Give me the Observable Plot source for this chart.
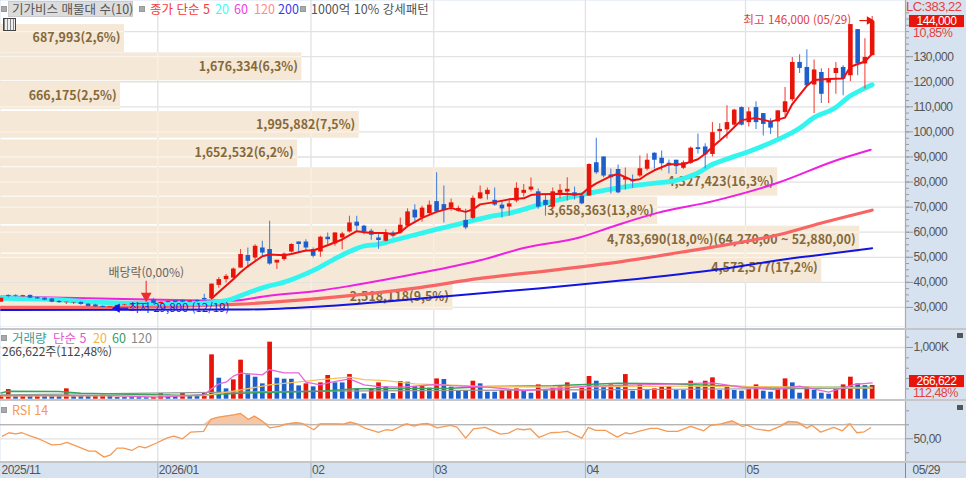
<!DOCTYPE html>
<html lang="ko"><head><meta charset="utf-8">
<script src="https://cdn.jsdelivr.net/npm/d3@7"></script>
<script src="https://cdn.jsdelivr.net/npm/@observablehq/plot@0.6"></script>
<style>
html,body{margin:0;padding:0;background:#fff;overflow:hidden}
#wrap{position:relative;width:966px;height:478px;overflow:hidden}
#wrap svg{display:block}
#wrap g[aria-label="y-axis tick label"]{letter-spacing:-.5px}
.t{position:absolute;white-space:nowrap;font:12.5px "Noto Sans CJK KR",sans-serif;line-height:13px}
.n{font-family:"Liberation Sans",sans-serif;font-size:12px;letter-spacing:-.5px}
.sq{position:absolute;width:4px;height:4px;background:#aaa;border:1px solid #999}
.bar{position:absolute;background:#c6c6c6}
</style></head><body><div id="wrap"></div>
<script>
// prices in thousand won, one value per trading day
const opens=[32.1,34.8,34.8,34.3,34.8,33.9,33.7,33.4,32.4,31.9,
31.8,32,31.3,31,30.4,29.9,30.3,30.8,31,31.2,
31.5,33,31.5,32,32.6,32.8,32.1,32.8,33.6,33.5,
38.8,41.1,41.7,45.7,50.7,49.7,53.7,53.1,47.7,49.1,
52.1,56.1,56.1,53.1,52.1,58,55.3,57.7,60.1,64,
62.4,60.4,57.7,56.4,59.7,59.7,62.4,68.8,65.7,67.4,
72.2,71,69.7,68.4,64.7,65.5,73.3,75,72.7,70.8,
70,72.4,75.5,76.8,76.1,72.7,70,75.5,76,75.7,
74.4,74.4,87.7,90,82.8,85,80.8,81,82.4,85.1,
91.5,89.5,87.5,88.7,85.5,87.5,93.7,94,91,100.1,
100.8,102.7,109.7,103.7,109.7,107.3,104,104,107.7,112.8,
127.7,125.7,118.7,123.7,119.5,123.3,125.7,122.4,140.8,127.1,
130.4];
const highs=[33.7,35,35,34.9,35,34.2,34,33.7,32.8,32.1,
32,32.3,31.6,31.3,30.7,30.3,30.9,31.3,31.4,31.7,
31.8,33.6,32.3,32.7,33,33.2,32.9,33.2,35.3,39.3,
41.9,43.1,45.7,53.1,53.7,55,56.4,64.4,48.8,51.7,
55.4,56.1,57,53.7,58.4,59.7,59.7,60,66.4,66.4,
62.8,61.2,59,61,60.4,65.7,69.4,71,70.4,72.4,
83.7,78.4,73.2,70.4,69.2,74.4,78.4,77.6,77.6,72.4,
73.2,79.7,79,81.6,77.2,75.2,77.6,79,81.7,78,
75,87.3,97.5,90,85.2,86.8,85.6,82.8,90.4,91.2,
91.7,92.4,88.8,88.7,88.4,94,99.2,95.3,103.7,103.3,
110.4,109,110,109.6,112,107.3,105.3,108.4,117.7,129.7,
130.8,132.8,128.7,125.2,125.3,127.7,126.4,142.8,140.8,137.1,
146];
const lows=[32.1,33.8,34.2,34,33.5,33.2,32.7,31.9,31.7,31.2,
31.2,30.9,30.2,30,29.9,29.8,30.2,30.6,30.8,31,
31,31.3,31.2,31.8,31.8,31.8,31.9,32,32.6,33.5,
37.7,39.7,41,45.7,45.7,48.4,50.4,46.8,45.1,48.4,
51.7,51.7,52,49.7,50,54.4,54.4,53,59.7,60.4,
59,56.8,53.2,56,57.7,59.3,62,64.4,64,67,
67.7,63.7,68.4,68,61,65,73,72.8,70.4,65.7,
66.4,71.7,74,76,69.2,66.4,69.7,73.2,72.4,72.8,
71,74.4,83,81.7,75.2,75.3,76.8,77.5,81.7,84.4,
85.2,84.4,83.2,83,85,87,91.2,85.2,90,97,
97.2,101.6,102.4,102,101,98.4,99,97.7,106,112,
123.3,118.4,107.3,111.3,111.3,115,114.4,120,122.4,117.1,
130.4];
const closes=[33.7,34.4,34.5,34.7,33.7,33.4,32.9,32.1,31.9,32.1,
32,31.2,30.4,30.2,30,30.2,30.8,31,31.2,31.5,
31.3,31.6,32,32.4,32,32.1,32.6,32.3,33,39.3,
41.1,42.4,45.3,51.1,48.4,54.4,51.7,47.3,48.8,51.3,
55.1,55.1,53.7,50.4,58,57,59.7,59.3,63.7,62.4,
60.1,58.8,56.7,59.3,58.4,62.8,68.1,65.7,69.6,70.8,
68.1,68.7,71.7,69.5,61.7,73.5,75.7,76.7,70.8,69.3,
71.3,77.5,76.7,78,70,70.7,76.1,76.7,77.1,74.4,
71.3,87,83.7,82.4,81.7,75.7,81.7,80.1,85.3,88.7,
88.7,87.3,86.4,86.1,87.7,93.5,93,90.8,99.7,101,
103.7,108.7,102.7,108,103.7,103,101.5,108.4,112,127.7,
125.3,118.4,124.7,115,121.3,125.3,121,142.8,127.1,129.7,
144];
// volume in thousand shares
const volumes=[71,187,58,71,58,65,58,55,52,200,
58,55,52,71,77,58,32,31,30,29,
28,35,110,77,58,110,71,70,116,858,
406,200,374,755,471,426,297,1103,406,387,
386,258,297,239,316,458,316,315,477,200,
103,200,316,239,110,342,329,245,252,213,
393,381,232,168,167,348,297,135,134,168,
169,200,168,116,277,168,213,245,316,123,
213,439,348,232,277,264,477,155,277,168,
200,232,245,168,167,348,245,348,413,168,
264,168,155,187,277,155,135,200,393,316,
116,232,168,116,97,219,277,426,297,262,
266.622];
// moving averages read as [day index, price]
const ma5=[[29,33.6],[32,41.2],[33,44],[34,46.4],[35,48.4],[36,50.4],[37,51.1],[39,50.8],[40,51.3],[42,52.7],[43,52.7],[45,54.8],[47,57.1],[49,60.4],[51,59.7],[53,59.7],[54,59.2],[55,60],[56,62.4],[58,65.7],[60,68.1],[62,69.7],[63,68.8],[64,68.1],[65,69.1],[66,71.1],[68,72],[70,73.1],[72,73.5],[73,74.8],[74,75.1],[76,75.2],[77,75.3],[79,75.1],[80,75.2],[81,77.7],[82,79.5],[84,82.4],[85,83.2],[87,80.7],[88,81.1],[89,83.1],[90,84.7],[92,87.1],[94,87.1],[96,89.1],[97,91.3],[98,94],[100,99.1],[102,104.7],[104,105.5],[106,104.1],[108,105.7],[109,111.1],[111,118.4],[112,120.7],[114,121.1],[116,121.3],[117,126],[119,128.1],[120,131.1]];
const ma20=[[0,33.6],[6.8,33.2],[13.7,32],[20.6,31.6],[27.5,31.6],[31.2,32.8],[33.9,35.7],[36.7,38.4],[38.9,40],[42.2,43.7],[43.6,45.6],[45.8,49.1],[48.1,52.4],[49.9,54.4],[51.8,55.1],[53.6,56.4],[56.8,58.8],[60.1,61.2],[63.7,63.7],[67,66],[70.2,67.7],[73.9,70.7],[77.1,73.1],[81.2,75.7],[85.7,78],[90.4,79.7],[92.6,80.4],[95.7,83.2],[98.1,87.2],[100,89.2],[103.2,92.4],[106.9,96.8],[110.1,101.7],[111.9,105.6],[114.7,109.2],[117,114.4],[118.8,117.2],[120,118.8]];
const ma60=[[0,34.4],[13.7,33.6],[27.5,32.8],[32,32.7],[36.2,34.4],[44,36.8],[47.7,38.4],[56.8,43.2],[66,48.8],[72,53.7],[79.8,58],[84.4,62.4],[90.4,67.7],[98.1,72.4],[107,79.7],[115.2,88.8],[119.8,92.9]];
const ma120=[[0,30],[13.7,30],[32,31.2],[44,33.6],[56.8,37.6],[66,41.6],[77,45.2],[85.7,48.4],[93.6,52],[107.4,59.2],[112.9,63.6],[120,68.8]];
const ma200=[[0,29],[34,29.2],[44,30.4],[61,34.4],[74,37.6],[83,40],[98,44.8],[110,50],[113,51],[120,53.6]];
// volume averages as [day index, thousand shares]
const volMa5=[[0,71],[15,71],[21.5,39],[28,84],[29,200],[30,297],[31,329],[32,445],[33,503],[36,471],[37,574],[39,510],[41,510],[42,329],[44,277],[45,316],[48,393],[50,277],[52,245],[55,232],[57,252],[60,284],[62,264],[67,232],[72,168],[76,200],[81,252],[88,277],[98,316],[102,232],[106.5,187],[110,252],[114,135],[117.5,284],[120,316]];
const volMa20=[[0,58],[28,71],[32,155],[37,277],[44,380],[48,426],[50,380],[53,361],[57,297],[64,264],[67,245],[76,232],[85,245],[93,252],[102,245],[120,219]];
const volMa60=[[0,122],[1,155],[8,148],[11,116],[16,103],[26,71],[33,116],[44,155],[49,200],[62,213],[67,245],[76,258],[85,310],[92,297],[102,245],[106,226],[120,232]];
const volMa120=[[0,84],[44,155],[85,187],[120,213]];
// RSI as [day index, value]
const rsi14=[[0.2,53.8],[1.1,58.6],[2,57.1],[2.9,58.6],[4.1,53.8],[5.4,49],[7,41.4],[8.2,41.9],[9.1,44.8],[10.5,39],[12.1,32.4],[13,32.4],[14.2,23.8],[15.1,27.1],[16,36.7],[16.9,36.7],[18,33.3],[19,39],[19.9,37.1],[21.5,44.3],[22.9,51.4],[23.8,53.8],[25,50],[26.1,59.5],[27.9,60.5],[28.9,77.6],[29.8,80.5],[30.9,82.4],[32.1,84.3],[33,86.2],[34.1,77.6],[34.9,82.4],[36,75.2],[37,65.7],[38.3,67.6],[39.4,71.4],[40.6,72.9],[41.5,71.9],[43.1,62.9],[44,71.4],[45.8,71.4],[47.2,71],[48.1,73.8],[49,71.4],[50,65.7],[52,59],[53,62.9],[53.9,61.9],[55,67.6],[55.9,71.4],[56.9,68.1],[57.8,71],[58.7,71.9],[60.1,65.7],[61.9,69],[62.8,66.7],[64,51],[65.1,64.3],[66.7,66.2],[68.8,56.7],[69.9,58.1],[71.1,64.3],[72,62.9],[72.9,64.3],[74.1,51.9],[75.7,58.6],[77.1,59.5],[78,60.5],[80,51],[80.9,66.2],[81.9,61.9],[83.3,61.9],[84.9,52.4],[86,58.6],[86.7,57.1],[87.8,60.5],[89.5,64.8],[90.4,64.8],[91.8,60.5],[93.2,60.5],[95,67.6],[96.8,61.4],[97.7,69],[99.1,71],[100.7,75.7],[102.1,67.6],[102.8,69.5],[103.9,64.3],[105.8,61.4],[107.4,68.1],[108.5,74.8],[109.7,73.8],[111,65.2],[111.7,69.5],[112.9,59.5],[114.7,66.2],[115.9,61.4],[116.9,71.4],[117.9,58.6],[118.9,60],[119.8,65.7]];
// price-volume profile
const bandVolume=[687993,1676334,666175,1995882,1652532,4327423,3658363,4783690,4572577,2518118];
const bandTop=[142.8,131.5,120,108.1,96.8,85.7,74,62.4,51.2,39.6];
const bandBottom=[131.7,120.4,108.9,97.5,86.1,74.4,63.1,51.7,40,28.8];
const bandLabel=["687,993(2,6%)","1,676,334(6,3%)","666,175(2,5%)","1,995,882(7,5%)","1,652,532(6,2%)","4,327,423(16,3%)","3,658,363(13,8%)","4,783,690(18,0%)(64,270,00 ~ 52,880,00)","4,572,577(17,2%)","2,518,118(9,5%)"];
const monthIndex=[21.6,42.7,59.6,80.5,102.55];
const monthLabel=["2026/01","02","03","04","05"];
const priceTicks=[30,40,50,60,70,80,90,100,110,120,130];
const gridPrices=[30,40,50,60,70,80,90,100,110,120,130,140];
const priceMinor=d3.range(30,150,2.5);
const volMinor=[200,400,600,800,1200];
const rsiMinor=[30,70,90];

const RED="#e8140a",BLUE="#1c5fcb",GRID="#e2e2e2",PANEL="#d6e2ef",INK="#555";
const xMin=-0.069,xMax=124.59;
const bandEnd=v=>v*1.795e-4/7.26;
const rows=opens.map((o,i)=>({i,o,h:highs[i],l:lows[i],c:closes[i],v:volumes[i],up:closes[i]>=o,vup:i===0||volumes[i]>=volumes[i-1]}));
const bands=bandVolume.map((v,k)=>({v,top:bandTop[k],bottom:bandBottom[k],label:bandLabel[k],end:bandEnd(v)}));
const bandGridH=bands.flatMap(b=>gridPrices.filter(p=>p<b.top&&p>b.bottom).map(p=>({p,end:b.end})));
const bandGridV=bands.flatMap(b=>monthIndex.filter(m=>m<b.end).map(m=>({m,top:b.top,bottom:b.bottom})));
const lineOf=(a,color,w,curve="linear")=>Plot.line(a,{x:d=>d[0],y:d=>d[1],stroke:color,strokeWidth:w,curve,clip:true});
const common={width:966,marginLeft:0,marginRight:61,marginTop:0,marginBottom:0,
  x:{domain:[xMin,xMax],axis:null},
  style:{background:PANEL,fontFamily:'"Liberation Sans",sans-serif',fontSize:"12px",color:INK}};
const monthRules=()=>Plot.ruleX(monthIndex,{stroke:GRID,strokeWidth:1.3});
const edge=()=>Plot.ruleX([xMax],{stroke:"#aaa",strokeWidth:1.2});
const rightTicks=(ticks,size)=>Plot.axisY({anchor:"right",ticks,tickSize:size,fill:"none",stroke:"#999",tickFormat:()=>"",label:null});

const main=Plot.plot({...common,height:326,
  y:{domain:[22.4,152.4],range:[326,0]},
  marks:[
    Plot.frame({fill:"#fff",stroke:null}),
    Plot.ruleY(gridPrices,{stroke:GRID,strokeWidth:1.3}),
    monthRules(),
    Plot.rect(bands,{x1:xMin,x2:"end",y1:"bottom",y2:"top",fill:"#f5e8d6"}),
    Plot.ruleY(bandGridH,{y:"p",x1:xMin,x2:"end",stroke:"#fbf4ea",strokeWidth:1.3}),
    Plot.ruleX(bandGridV,{x:"m",y1:"bottom",y2:"top",stroke:"#f9f0e4",strokeWidth:1.3}),
    Plot.text(bands,{x:"end",y:d=>(d.top+d.bottom)/2,text:"label",textAnchor:"end",dx:-4,fill:"#86693b",fontWeight:700,fontFamily:'"Noto Sans CJK KR",sans-serif',fontSize:12.4}),
    rightTicks(priceMinor,3),
    Plot.axisY({anchor:"right",ticks:priceTicks,tickSize:7,tickPadding:1,stroke:"#999",fill:INK,label:null,tickFormat:d=>d3.format(",")(d*1000)}),
    lineOf(ma200,"#1414e0",2,"monotone-x"),
    lineOf(ma120,"#f96464",3.2,"monotone-x"),
    lineOf(ma60,"#f020e0",2,"monotone-x"),
    lineOf(ma20,"#33f5f0",4.8,"monotone-x"),
    Plot.ruleX(rows,{filter:d=>d.up,x:"i",y1:"l",y2:"h",stroke:"#ef4a40",strokeWidth:1.1,clip:true}),
    Plot.ruleX(rows,{filter:d=>!d.up,x:"i",y1:"l",y2:"h",stroke:"#4a85dc",strokeWidth:1.1,clip:true}),
    Plot.ruleX(rows,{filter:d=>d.up,x:"i",y1:"o",y2:"c",stroke:RED,strokeWidth:4.6,clip:true}),
    Plot.ruleX(rows,{filter:d=>!d.up,x:"i",y1:"o",y2:"c",stroke:BLUE,strokeWidth:4.6,clip:true}),
    lineOf(ma5,"#ee1010",2),
    // annotations: highest price, ex-dividend, lowest price
    Plot.text([{i:120,y:144.6}],{x:"i",y:"y",text:()=>"최고 146,000 (05/29)",textAnchor:"end",dx:-21,fill:"#e23c3c",fontFamily:'"Noto Sans CJK KR",sans-serif',fontSize:11.6}),
    Plot.ruleY([{y:144.4,i1:118.3,i2:119.6}],{y:"y",x1:"i1",x2:"i2",stroke:RED,strokeWidth:1.2}),
    Plot.dot([{i:119.6,y:144.4}],{x:"i",y:"y",symbol:"triangle",r:3.2,fill:RED,stroke:"none",rotate:90}),
    Plot.text([{i:20,y:43.6}],{x:"i",y:"y",text:()=>"배당락(0,00%)",fill:"#666",fontFamily:'"Noto Sans CJK KR",sans-serif',fontSize:12}),
    Plot.ruleX([{i:20,y1:40.4,y2:35}],{x:"i",y1:"y1",y2:"y2",stroke:"#ef3b3b",strokeWidth:1.2}),
    Plot.dot([{i:20,y:34.6}],{x:"i",y:"y",symbol:"triangle",r:4,fill:"#ef2b2b",stroke:"none",rotate:180}),
    Plot.ruleY([{y:29.7,i1:16,i2:17.6}],{y:"y",x1:"i1",x2:"i2",stroke:"#1414e0",strokeWidth:1.2}),
    Plot.dot([{i:16,y:29.7}],{x:"i",y:"y",symbol:"triangle",r:3.4,fill:"#1414e0",stroke:"none",rotate:-90}),
    Plot.text([{i:17.6,y:29.7}],{x:"i",y:"y",text:()=>"최저 29,800 (12/19)",textAnchor:"start",fill:"#2020d8",fontFamily:'"Noto Sans CJK KR",sans-serif',fontSize:11.5}),
    edge()
  ]});

const vol=Plot.plot({...common,height:74,
  y:{domain:[-25,1406],range:[74,0]},
  marks:[
    Plot.frame({fill:"#fff",stroke:null}),
    Plot.ruleY([1000],{stroke:GRID,strokeWidth:1.3}),
    monthRules(),
    rightTicks(volMinor,3),
    Plot.axisY({anchor:"right",ticks:[1000],tickSize:7,tickPadding:1,stroke:"#999",fill:INK,label:null,tickFormat:()=>"1,000K"}),
    Plot.ruleX(rows,{filter:d=>d.vup,x:"i",y1:0,y2:"v",stroke:RED,strokeWidth:4.7,clip:true}),
    Plot.ruleX(rows,{filter:d=>!d.vup,x:"i",y1:0,y2:"v",stroke:BLUE,strokeWidth:4.7,clip:true}),
    lineOf(volMa120,"#999",1.2),
    lineOf(volMa60,"#3aa45e",1.5),
    lineOf(volMa20,"#f4c25a",1.3),
    lineOf(volMa5,"#e866d8",1.3),
    edge()
  ]});

const rsi=Plot.plot({...common,height:62,
  y:{domain:[16.1,104.7],range:[62,0]},
  marks:[
    Plot.frame({fill:"#fff",stroke:null}),
    Plot.ruleY([50],{stroke:GRID,strokeWidth:1.3}),
    monthRules(),
    Plot.ruleY([70],{stroke:"#999",strokeWidth:1}),
    Plot.areaY(rsi14,{x:d=>d[0],y1:70,y2:d=>Math.max(d[1],70),fill:"#f3bd96",fillOpacity:.85}),
    rightTicks(rsiMinor,3),
    Plot.axisY({anchor:"right",ticks:[50],tickSize:7,tickPadding:1,stroke:"#999",fill:INK,label:null,tickFormat:()=>"50,00"}),
    lineOf(rsi14,"#f59a55",1.3),
    edge()
  ]});

const axis=Plot.plot({...common,height:16,
  style:{...common.style,letterSpacing:"-.5px"},
  y:{domain:[0,1],range:[16,0],axis:null},
  marks:[
    Plot.ruleX(monthIndex,{stroke:"#aab2bd",strokeWidth:1}),
    Plot.ruleX([xMax],{stroke:"#888",strokeWidth:1}),
    Plot.text(monthIndex,{x:d=>d,y:.5,text:(d,i)=>monthLabel[i],textAnchor:"start",dx:1,fill:INK}),
    Plot.text(["2025/11"],{x:xMin,y:.5,text:d=>d,textAnchor:"start",dx:1,fill:INK}),
    Plot.text(["05/29"],{x:xMax,y:.5,text:d=>d,textAnchor:"start",dx:7,fill:INK})
  ]});

const wrap=document.getElementById("wrap");
wrap.append(main,vol,rsi,axis);
const put=(html,style,cls="t")=>{const e=document.createElement("div");e.className=cls;e.style.cssText=style;e.innerHTML=html;wrap.append(e);return e;};
// header legend
put("","left:1px;top:6px","sq");
put("기가비스 매물대 수(10)","left:8px;top:1px;height:14px;line-height:14px;background:#dcdcdc;border:1px solid #ccc;padding-left:3px;color:#555;width:120px");
put("","left:139px;top:6px","sq");
put("종가 단순 5","left:150px;top:2px;color:#f23b3b");
put("20","left:215px;top:2px;color:#3ff");
put("60","left:234px;top:2px;color:#f040e0");
put("120","left:254px;top:2px;color:#ff8a8a");
put("200","left:278px;top:2px;color:#3a3ae8");
put("","left:300px;top:6px","sq");
put("1000억 10% 강세패턴","left:311px;top:2px;color:#555");
// grid icon
put("","left:3px;top:18px;width:11px;height:11px;border:1px solid #444;background:repeating-linear-gradient(90deg,#888 0 1px,#eee 1px 3px)","bar");
// right-hand price labels
put("LC:383,22","left:906px;top:0px;color:#e64040;font-size:13px","t n");
put("144,000","left:909px;top:15px;width:55px;height:12px;line-height:12px;background:#e8140a;color:#fff;text-align:center;font-size:12px","t n");
put("10,85%","left:913px;top:27px;color:#e64040;font-size:12.5px","t n");
// volume panel text
put("","left:1px;top:335px","sq");
put("거래량","left:12px;top:330.5px;color:#3a9c9c");
put("단순 5","left:53px;top:330.5px;color:#e256cc");
put("20","left:93px;top:330.5px;color:#f2b544");
put("60","left:112px;top:330.5px;color:#35a060");
put("120","left:131px;top:330.5px;color:#888");
put("266,622주(112,48%)","left:2px;top:344px;color:#444;font-size:12px");
put("266,622","left:909px;top:375px;width:55px;height:12px;line-height:12px;background:#e8140a;color:#fff;text-align:center;font-size:12px","t n");
put("112,48%","left:913px;top:387px;color:#e64040;font-size:12.5px","t n");
// RSI panel text
put("","left:1px;top:407px","sq");
put("RSI 14","left:12px;top:403px;color:#f59a55");
// panel dividers
put("","left:0;top:328px;width:966px;height:1.6px","bar");
put("","left:0;top:399.4px;width:966px;height:2px","bar");
put("","left:0;top:461px;width:966px;height:1.6px","bar");
// small panel buttons
put("","left:957px;top:333px;width:6px;height:5px;background:#555","bar");
put("","left:957px;top:405px;width:6px;height:5px;background:#555","bar");
</script></body></html>
